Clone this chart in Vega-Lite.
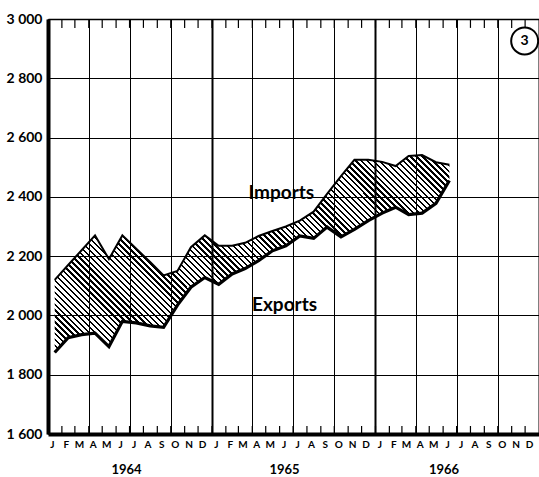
{
"$schema":"https://vega.github.io/schema/vega-lite/v6.json",
"width":491,"height":415,
"autosize":{"type":"none"},
"padding":{"left":48,"top":19,"right":0,"bottom":43},
"background":"white",
"config":{"view":{"stroke":null},"font":"Lato","axis":{"labelColor":"#000","domainColor":"#000","gridColor":"#000","labelFont":"Lato"}},
"resolve":{"axis":{"x":"independent","y":"independent"}},
"data":{"values":[
{"date":"1964-01-16","imports":2120,"exports":1875},
{"date":"1964-02-15","imports":2170,"exports":1925},
{"date":"1964-03-16","imports":2220,"exports":1935},
{"date":"1964-04-15","imports":2270,"exports":1940},
{"date":"1964-05-16","imports":2190,"exports":1895},
{"date":"1964-06-15","imports":2270,"exports":1980},
{"date":"1964-07-16","imports":2225,"exports":1975},
{"date":"1964-08-16","imports":2180,"exports":1965},
{"date":"1964-09-15","imports":2135,"exports":1960},
{"date":"1964-10-16","imports":2150,"exports":2035},
{"date":"1964-11-15","imports":2230,"exports":2095},
{"date":"1964-12-16","imports":2270,"exports":2128},
{"date":"1965-01-16","imports":2235,"exports":2105},
{"date":"1965-02-15","imports":2235,"exports":2140},
{"date":"1965-03-16","imports":2245,"exports":2158},
{"date":"1965-04-15","imports":2268,"exports":2185},
{"date":"1965-05-16","imports":2285,"exports":2218},
{"date":"1965-06-15","imports":2300,"exports":2235},
{"date":"1965-07-16","imports":2320,"exports":2268},
{"date":"1965-08-16","imports":2350,"exports":2260},
{"date":"1965-09-15","imports":2410,"exports":2298},
{"date":"1965-10-16","imports":2470,"exports":2265},
{"date":"1965-11-15","imports":2525,"exports":2290},
{"date":"1965-12-16","imports":2525,"exports":2320},
{"date":"1966-01-16","imports":2518,"exports":2345},
{"date":"1966-02-15","imports":2504,"exports":2365},
{"date":"1966-03-16","imports":2538,"exports":2340},
{"date":"1966-04-15","imports":2541,"exports":2345},
{"date":"1966-05-16","imports":2517,"exports":2378},
{"date":"1966-06-15","imports":2508,"exports":2455}
]},
"layer":[
{"mark":{"type":"area","opacity":1,"stroke":null,"fill":{"gradient":"linear","x1":0,"y1":1,"x2":1.2,"y2":0.4,"stops":[
{"offset":0.00,"color":"#000"},{"offset":0.004,"color":"#000"},{"offset":0.004,"color":"rgba(0,0,0,0)"},{"offset":0.01,"color":"rgba(0,0,0,0)"},
{"offset":0.01,"color":"#000"},{"offset":0.014,"color":"#000"},{"offset":0.014,"color":"rgba(0,0,0,0)"},{"offset":0.02,"color":"rgba(0,0,0,0)"},
{"offset":0.02,"color":"#000"},{"offset":0.024,"color":"#000"},{"offset":0.024,"color":"rgba(0,0,0,0)"},{"offset":0.03,"color":"rgba(0,0,0,0)"},
{"offset":0.03,"color":"#000"},{"offset":0.034,"color":"#000"},{"offset":0.034,"color":"rgba(0,0,0,0)"},{"offset":0.04,"color":"rgba(0,0,0,0)"},
{"offset":0.04,"color":"#000"},{"offset":0.044,"color":"#000"},{"offset":0.044,"color":"rgba(0,0,0,0)"},{"offset":0.05,"color":"rgba(0,0,0,0)"},
{"offset":0.05,"color":"#000"},{"offset":0.054,"color":"#000"},{"offset":0.054,"color":"rgba(0,0,0,0)"},{"offset":0.06,"color":"rgba(0,0,0,0)"},
{"offset":0.06,"color":"#000"},{"offset":0.064,"color":"#000"},{"offset":0.064,"color":"rgba(0,0,0,0)"},{"offset":0.07,"color":"rgba(0,0,0,0)"},
{"offset":0.07,"color":"#000"},{"offset":0.074,"color":"#000"},{"offset":0.074,"color":"rgba(0,0,0,0)"},{"offset":0.08,"color":"rgba(0,0,0,0)"},
{"offset":0.08,"color":"#000"},{"offset":0.084,"color":"#000"},{"offset":0.084,"color":"rgba(0,0,0,0)"},{"offset":0.09,"color":"rgba(0,0,0,0)"},
{"offset":0.09,"color":"#000"},{"offset":0.094,"color":"#000"},{"offset":0.094,"color":"rgba(0,0,0,0)"},{"offset":0.10,"color":"rgba(0,0,0,0)"},
{"offset":0.10,"color":"#000"},{"offset":0.104,"color":"#000"},{"offset":0.104,"color":"rgba(0,0,0,0)"},{"offset":0.11,"color":"rgba(0,0,0,0)"},
{"offset":0.11,"color":"#000"},{"offset":0.114,"color":"#000"},{"offset":0.114,"color":"rgba(0,0,0,0)"},{"offset":0.12,"color":"rgba(0,0,0,0)"},
{"offset":0.12,"color":"#000"},{"offset":0.124,"color":"#000"},{"offset":0.124,"color":"rgba(0,0,0,0)"},{"offset":0.13,"color":"rgba(0,0,0,0)"},
{"offset":0.13,"color":"#000"},{"offset":0.134,"color":"#000"},{"offset":0.134,"color":"rgba(0,0,0,0)"},{"offset":0.14,"color":"rgba(0,0,0,0)"},
{"offset":0.14,"color":"#000"},{"offset":0.144,"color":"#000"},{"offset":0.144,"color":"rgba(0,0,0,0)"},{"offset":0.15,"color":"rgba(0,0,0,0)"},
{"offset":0.15,"color":"#000"},{"offset":0.154,"color":"#000"},{"offset":0.154,"color":"rgba(0,0,0,0)"},{"offset":0.16,"color":"rgba(0,0,0,0)"},
{"offset":0.16,"color":"#000"},{"offset":0.164,"color":"#000"},{"offset":0.164,"color":"rgba(0,0,0,0)"},{"offset":0.17,"color":"rgba(0,0,0,0)"},
{"offset":0.17,"color":"#000"},{"offset":0.174,"color":"#000"},{"offset":0.174,"color":"rgba(0,0,0,0)"},{"offset":0.18,"color":"rgba(0,0,0,0)"},
{"offset":0.18,"color":"#000"},{"offset":0.184,"color":"#000"},{"offset":0.184,"color":"rgba(0,0,0,0)"},{"offset":0.19,"color":"rgba(0,0,0,0)"},
{"offset":0.19,"color":"#000"},{"offset":0.194,"color":"#000"},{"offset":0.194,"color":"rgba(0,0,0,0)"},{"offset":0.20,"color":"rgba(0,0,0,0)"},
{"offset":0.20,"color":"#000"},{"offset":0.204,"color":"#000"},{"offset":0.204,"color":"rgba(0,0,0,0)"},{"offset":0.21,"color":"rgba(0,0,0,0)"},
{"offset":0.21,"color":"#000"},{"offset":0.214,"color":"#000"},{"offset":0.214,"color":"rgba(0,0,0,0)"},{"offset":0.22,"color":"rgba(0,0,0,0)"},
{"offset":0.22,"color":"#000"},{"offset":0.224,"color":"#000"},{"offset":0.224,"color":"rgba(0,0,0,0)"},{"offset":0.23,"color":"rgba(0,0,0,0)"},
{"offset":0.23,"color":"#000"},{"offset":0.234,"color":"#000"},{"offset":0.234,"color":"rgba(0,0,0,0)"},{"offset":0.24,"color":"rgba(0,0,0,0)"},
{"offset":0.24,"color":"#000"},{"offset":0.244,"color":"#000"},{"offset":0.244,"color":"rgba(0,0,0,0)"},{"offset":0.25,"color":"rgba(0,0,0,0)"},
{"offset":0.25,"color":"#000"},{"offset":0.254,"color":"#000"},{"offset":0.254,"color":"rgba(0,0,0,0)"},{"offset":0.26,"color":"rgba(0,0,0,0)"},
{"offset":0.26,"color":"#000"},{"offset":0.264,"color":"#000"},{"offset":0.264,"color":"rgba(0,0,0,0)"},{"offset":0.27,"color":"rgba(0,0,0,0)"},
{"offset":0.27,"color":"#000"},{"offset":0.274,"color":"#000"},{"offset":0.274,"color":"rgba(0,0,0,0)"},{"offset":0.28,"color":"rgba(0,0,0,0)"},
{"offset":0.28,"color":"#000"},{"offset":0.284,"color":"#000"},{"offset":0.284,"color":"rgba(0,0,0,0)"},{"offset":0.29,"color":"rgba(0,0,0,0)"},
{"offset":0.29,"color":"#000"},{"offset":0.294,"color":"#000"},{"offset":0.294,"color":"rgba(0,0,0,0)"},{"offset":0.30,"color":"rgba(0,0,0,0)"},
{"offset":0.30,"color":"#000"},{"offset":0.304,"color":"#000"},{"offset":0.304,"color":"rgba(0,0,0,0)"},{"offset":0.31,"color":"rgba(0,0,0,0)"},
{"offset":0.31,"color":"#000"},{"offset":0.314,"color":"#000"},{"offset":0.314,"color":"rgba(0,0,0,0)"},{"offset":0.32,"color":"rgba(0,0,0,0)"},
{"offset":0.32,"color":"#000"},{"offset":0.324,"color":"#000"},{"offset":0.324,"color":"rgba(0,0,0,0)"},{"offset":0.33,"color":"rgba(0,0,0,0)"},
{"offset":0.33,"color":"#000"},{"offset":0.334,"color":"#000"},{"offset":0.334,"color":"rgba(0,0,0,0)"},{"offset":0.34,"color":"rgba(0,0,0,0)"},
{"offset":0.34,"color":"#000"},{"offset":0.344,"color":"#000"},{"offset":0.344,"color":"rgba(0,0,0,0)"},{"offset":0.35,"color":"rgba(0,0,0,0)"},
{"offset":0.35,"color":"#000"},{"offset":0.354,"color":"#000"},{"offset":0.354,"color":"rgba(0,0,0,0)"},{"offset":0.36,"color":"rgba(0,0,0,0)"},
{"offset":0.36,"color":"#000"},{"offset":0.364,"color":"#000"},{"offset":0.364,"color":"rgba(0,0,0,0)"},{"offset":0.37,"color":"rgba(0,0,0,0)"},
{"offset":0.37,"color":"#000"},{"offset":0.374,"color":"#000"},{"offset":0.374,"color":"rgba(0,0,0,0)"},{"offset":0.38,"color":"rgba(0,0,0,0)"},
{"offset":0.38,"color":"#000"},{"offset":0.384,"color":"#000"},{"offset":0.384,"color":"rgba(0,0,0,0)"},{"offset":0.39,"color":"rgba(0,0,0,0)"},
{"offset":0.39,"color":"#000"},{"offset":0.394,"color":"#000"},{"offset":0.394,"color":"rgba(0,0,0,0)"},{"offset":0.40,"color":"rgba(0,0,0,0)"},
{"offset":0.40,"color":"#000"},{"offset":0.404,"color":"#000"},{"offset":0.404,"color":"rgba(0,0,0,0)"},{"offset":0.41,"color":"rgba(0,0,0,0)"},
{"offset":0.41,"color":"#000"},{"offset":0.414,"color":"#000"},{"offset":0.414,"color":"rgba(0,0,0,0)"},{"offset":0.42,"color":"rgba(0,0,0,0)"},
{"offset":0.42,"color":"#000"},{"offset":0.424,"color":"#000"},{"offset":0.424,"color":"rgba(0,0,0,0)"},{"offset":0.43,"color":"rgba(0,0,0,0)"},
{"offset":0.43,"color":"#000"},{"offset":0.434,"color":"#000"},{"offset":0.434,"color":"rgba(0,0,0,0)"},{"offset":0.44,"color":"rgba(0,0,0,0)"},
{"offset":0.44,"color":"#000"},{"offset":0.444,"color":"#000"},{"offset":0.444,"color":"rgba(0,0,0,0)"},{"offset":0.45,"color":"rgba(0,0,0,0)"},
{"offset":0.45,"color":"#000"},{"offset":0.454,"color":"#000"},{"offset":0.454,"color":"rgba(0,0,0,0)"},{"offset":0.46,"color":"rgba(0,0,0,0)"},
{"offset":0.46,"color":"#000"},{"offset":0.464,"color":"#000"},{"offset":0.464,"color":"rgba(0,0,0,0)"},{"offset":0.47,"color":"rgba(0,0,0,0)"},
{"offset":0.47,"color":"#000"},{"offset":0.474,"color":"#000"},{"offset":0.474,"color":"rgba(0,0,0,0)"},{"offset":0.48,"color":"rgba(0,0,0,0)"},
{"offset":0.48,"color":"#000"},{"offset":0.484,"color":"#000"},{"offset":0.484,"color":"rgba(0,0,0,0)"},{"offset":0.49,"color":"rgba(0,0,0,0)"},
{"offset":0.49,"color":"#000"},{"offset":0.494,"color":"#000"},{"offset":0.494,"color":"rgba(0,0,0,0)"},{"offset":0.50,"color":"rgba(0,0,0,0)"},
{"offset":0.50,"color":"#000"},{"offset":0.504,"color":"#000"},{"offset":0.504,"color":"rgba(0,0,0,0)"},{"offset":0.51,"color":"rgba(0,0,0,0)"},
{"offset":0.51,"color":"#000"},{"offset":0.514,"color":"#000"},{"offset":0.514,"color":"rgba(0,0,0,0)"},{"offset":0.52,"color":"rgba(0,0,0,0)"},
{"offset":0.52,"color":"#000"},{"offset":0.524,"color":"#000"},{"offset":0.524,"color":"rgba(0,0,0,0)"},{"offset":0.53,"color":"rgba(0,0,0,0)"},
{"offset":0.53,"color":"#000"},{"offset":0.534,"color":"#000"},{"offset":0.534,"color":"rgba(0,0,0,0)"},{"offset":0.54,"color":"rgba(0,0,0,0)"},
{"offset":0.54,"color":"#000"},{"offset":0.544,"color":"#000"},{"offset":0.544,"color":"rgba(0,0,0,0)"},{"offset":0.55,"color":"rgba(0,0,0,0)"},
{"offset":0.55,"color":"#000"},{"offset":0.554,"color":"#000"},{"offset":0.554,"color":"rgba(0,0,0,0)"},{"offset":0.56,"color":"rgba(0,0,0,0)"},
{"offset":0.56,"color":"#000"},{"offset":0.564,"color":"#000"},{"offset":0.564,"color":"rgba(0,0,0,0)"},{"offset":0.57,"color":"rgba(0,0,0,0)"},
{"offset":0.57,"color":"#000"},{"offset":0.574,"color":"#000"},{"offset":0.574,"color":"rgba(0,0,0,0)"},{"offset":0.58,"color":"rgba(0,0,0,0)"},
{"offset":0.58,"color":"#000"},{"offset":0.584,"color":"#000"},{"offset":0.584,"color":"rgba(0,0,0,0)"},{"offset":0.59,"color":"rgba(0,0,0,0)"},
{"offset":0.59,"color":"#000"},{"offset":0.594,"color":"#000"},{"offset":0.594,"color":"rgba(0,0,0,0)"},{"offset":0.60,"color":"rgba(0,0,0,0)"},
{"offset":0.60,"color":"#000"},{"offset":0.604,"color":"#000"},{"offset":0.604,"color":"rgba(0,0,0,0)"},{"offset":0.61,"color":"rgba(0,0,0,0)"},
{"offset":0.61,"color":"#000"},{"offset":0.614,"color":"#000"},{"offset":0.614,"color":"rgba(0,0,0,0)"},{"offset":0.62,"color":"rgba(0,0,0,0)"},
{"offset":0.62,"color":"#000"},{"offset":0.624,"color":"#000"},{"offset":0.624,"color":"rgba(0,0,0,0)"},{"offset":0.63,"color":"rgba(0,0,0,0)"},
{"offset":0.63,"color":"#000"},{"offset":0.634,"color":"#000"},{"offset":0.634,"color":"rgba(0,0,0,0)"},{"offset":0.64,"color":"rgba(0,0,0,0)"},
{"offset":0.64,"color":"#000"},{"offset":0.644,"color":"#000"},{"offset":0.644,"color":"rgba(0,0,0,0)"},{"offset":0.65,"color":"rgba(0,0,0,0)"},
{"offset":0.65,"color":"#000"},{"offset":0.654,"color":"#000"},{"offset":0.654,"color":"rgba(0,0,0,0)"},{"offset":0.66,"color":"rgba(0,0,0,0)"},
{"offset":0.66,"color":"#000"},{"offset":0.664,"color":"#000"},{"offset":0.664,"color":"rgba(0,0,0,0)"},{"offset":0.67,"color":"rgba(0,0,0,0)"},
{"offset":0.67,"color":"#000"},{"offset":0.674,"color":"#000"},{"offset":0.674,"color":"rgba(0,0,0,0)"},{"offset":0.68,"color":"rgba(0,0,0,0)"},
{"offset":0.68,"color":"#000"},{"offset":0.684,"color":"#000"},{"offset":0.684,"color":"rgba(0,0,0,0)"},{"offset":0.69,"color":"rgba(0,0,0,0)"},
{"offset":0.69,"color":"#000"},{"offset":0.694,"color":"#000"},{"offset":0.694,"color":"rgba(0,0,0,0)"},{"offset":0.70,"color":"rgba(0,0,0,0)"},
{"offset":0.70,"color":"#000"},{"offset":0.704,"color":"#000"},{"offset":0.704,"color":"rgba(0,0,0,0)"},{"offset":0.71,"color":"rgba(0,0,0,0)"},
{"offset":0.71,"color":"#000"},{"offset":0.714,"color":"#000"},{"offset":0.714,"color":"rgba(0,0,0,0)"},{"offset":0.72,"color":"rgba(0,0,0,0)"},
{"offset":0.72,"color":"#000"},{"offset":0.724,"color":"#000"},{"offset":0.724,"color":"rgba(0,0,0,0)"},{"offset":0.73,"color":"rgba(0,0,0,0)"},
{"offset":0.73,"color":"#000"},{"offset":0.734,"color":"#000"},{"offset":0.734,"color":"rgba(0,0,0,0)"},{"offset":0.74,"color":"rgba(0,0,0,0)"},
{"offset":0.74,"color":"#000"},{"offset":0.744,"color":"#000"},{"offset":0.744,"color":"rgba(0,0,0,0)"},{"offset":0.75,"color":"rgba(0,0,0,0)"},
{"offset":0.75,"color":"#000"},{"offset":0.754,"color":"#000"},{"offset":0.754,"color":"rgba(0,0,0,0)"},{"offset":0.76,"color":"rgba(0,0,0,0)"},
{"offset":0.76,"color":"#000"},{"offset":0.764,"color":"#000"},{"offset":0.764,"color":"rgba(0,0,0,0)"},{"offset":0.77,"color":"rgba(0,0,0,0)"},
{"offset":0.77,"color":"#000"},{"offset":0.774,"color":"#000"},{"offset":0.774,"color":"rgba(0,0,0,0)"},{"offset":0.78,"color":"rgba(0,0,0,0)"},
{"offset":0.78,"color":"#000"},{"offset":0.784,"color":"#000"},{"offset":0.784,"color":"rgba(0,0,0,0)"},{"offset":0.79,"color":"rgba(0,0,0,0)"},
{"offset":0.79,"color":"#000"},{"offset":0.794,"color":"#000"},{"offset":0.794,"color":"rgba(0,0,0,0)"},{"offset":0.80,"color":"rgba(0,0,0,0)"},
{"offset":0.80,"color":"#000"},{"offset":0.804,"color":"#000"},{"offset":0.804,"color":"rgba(0,0,0,0)"},{"offset":0.81,"color":"rgba(0,0,0,0)"},
{"offset":0.81,"color":"#000"},{"offset":0.814,"color":"#000"},{"offset":0.814,"color":"rgba(0,0,0,0)"},{"offset":0.82,"color":"rgba(0,0,0,0)"},
{"offset":0.82,"color":"#000"},{"offset":0.824,"color":"#000"},{"offset":0.824,"color":"rgba(0,0,0,0)"},{"offset":0.83,"color":"rgba(0,0,0,0)"},
{"offset":0.83,"color":"#000"},{"offset":0.834,"color":"#000"},{"offset":0.834,"color":"rgba(0,0,0,0)"},{"offset":0.84,"color":"rgba(0,0,0,0)"},
{"offset":0.84,"color":"#000"},{"offset":0.844,"color":"#000"},{"offset":0.844,"color":"rgba(0,0,0,0)"},{"offset":0.85,"color":"rgba(0,0,0,0)"},
{"offset":0.85,"color":"#000"},{"offset":0.854,"color":"#000"},{"offset":0.854,"color":"rgba(0,0,0,0)"},{"offset":0.86,"color":"rgba(0,0,0,0)"},
{"offset":0.86,"color":"#000"},{"offset":0.864,"color":"#000"},{"offset":0.864,"color":"rgba(0,0,0,0)"},{"offset":0.87,"color":"rgba(0,0,0,0)"},
{"offset":0.87,"color":"#000"},{"offset":0.874,"color":"#000"},{"offset":0.874,"color":"rgba(0,0,0,0)"},{"offset":0.88,"color":"rgba(0,0,0,0)"},
{"offset":0.88,"color":"#000"},{"offset":0.884,"color":"#000"},{"offset":0.884,"color":"rgba(0,0,0,0)"},{"offset":0.89,"color":"rgba(0,0,0,0)"},
{"offset":0.89,"color":"#000"},{"offset":0.894,"color":"#000"},{"offset":0.894,"color":"rgba(0,0,0,0)"},{"offset":0.90,"color":"rgba(0,0,0,0)"},
{"offset":0.90,"color":"#000"},{"offset":0.904,"color":"#000"},{"offset":0.904,"color":"rgba(0,0,0,0)"},{"offset":0.91,"color":"rgba(0,0,0,0)"},
{"offset":0.91,"color":"#000"},{"offset":0.914,"color":"#000"},{"offset":0.914,"color":"rgba(0,0,0,0)"},{"offset":0.92,"color":"rgba(0,0,0,0)"},
{"offset":0.92,"color":"#000"},{"offset":0.924,"color":"#000"},{"offset":0.924,"color":"rgba(0,0,0,0)"},{"offset":0.93,"color":"rgba(0,0,0,0)"},
{"offset":0.93,"color":"#000"},{"offset":0.934,"color":"#000"},{"offset":0.934,"color":"rgba(0,0,0,0)"},{"offset":0.94,"color":"rgba(0,0,0,0)"},
{"offset":0.94,"color":"#000"},{"offset":0.944,"color":"#000"},{"offset":0.944,"color":"rgba(0,0,0,0)"},{"offset":0.95,"color":"rgba(0,0,0,0)"},
{"offset":0.95,"color":"#000"},{"offset":0.954,"color":"#000"},{"offset":0.954,"color":"rgba(0,0,0,0)"},{"offset":0.96,"color":"rgba(0,0,0,0)"},
{"offset":0.96,"color":"#000"},{"offset":0.964,"color":"#000"},{"offset":0.964,"color":"rgba(0,0,0,0)"},{"offset":0.97,"color":"rgba(0,0,0,0)"},
{"offset":0.97,"color":"#000"},{"offset":0.974,"color":"#000"},{"offset":0.974,"color":"rgba(0,0,0,0)"},{"offset":0.98,"color":"rgba(0,0,0,0)"},
{"offset":0.98,"color":"#000"},{"offset":0.984,"color":"#000"},{"offset":0.984,"color":"rgba(0,0,0,0)"},{"offset":0.99,"color":"rgba(0,0,0,0)"},
{"offset":0.99,"color":"#000"},{"offset":0.994,"color":"#000"},{"offset":0.994,"color":"rgba(0,0,0,0)"},{"offset":1,"color":"rgba(0,0,0,0)"}
]}},
"encoding":{
"x":{"field":"date","type":"temporal","scale":{"type":"utc","domain":[{"year":1964,"month":1,"date":1,"utc":true},{"year":1967,"month":1,"date":1,"utc":true}]},"axis":null},
"y":{"field":"imports","type":"quantitative","scale":{"domain":[1600,3000],"nice":false,"zero":false},
"axis":{"orient":"left","title":null,"values":[1600,1800,2000,2200,2400,2600,2800,3000],"format":",d","labelExpr":"replace(datum.label, ',', ' ')","grid":true,"gridColor":"#000","gridWidth":1,"ticks":false,"domain":true,"domainWidth":4,"labelPadding":6,"labelFontSize":14,"labelFontWeight":"bold"}},
"y2":{"field":"exports"}
}},
{"mark":{"type":"line","color":"#000","strokeWidth":2},
"encoding":{
"x":{"field":"date","type":"temporal","scale":{"type":"utc","domain":[{"year":1964,"month":1,"date":1,"utc":true},{"year":1967,"month":1,"date":1,"utc":true}]},
"axis":{"orient":"bottom","title":null,"tickCount":{"interval":"year","step":1},"labels":false,"grid":false,"ticks":false,"domain":true,"domainWidth":4}},
"y":{"field":"imports","type":"quantitative","scale":{"domain":[1600,3000],"nice":false,"zero":false},"axis":null}
}},
{"mark":{"type":"line","color":"#000","strokeWidth":3.2},
"encoding":{
"x":{"field":"date","type":"temporal","scale":{"type":"utc","domain":[{"year":1964,"month":1,"date":1,"utc":true},{"year":1967,"month":1,"date":1,"utc":true}]},
"axis":{"orient":"bottom","title":null,"tickCount":{"interval":"month","step":1},"ticks":false,"domain":false,"grid":false,"labelExpr":"utcyear(datum.value) > 1966 ? '' : substring(utcFormat(datum.value, '%b'), 0, 1)","labelOffset":4,"labelPadding":5,"labelFontSize":10,"labelFontWeight":"bold","labelFlush":false,"labelOverlap":false,"labelAlign":"center"}},
"y":{"field":"exports","type":"quantitative","scale":{"domain":[1600,3000],"nice":false,"zero":false},"axis":null}
}},
{"data":{"values":[{"label":"Imports","date":"1965-06-05","value":2393},{"label":"Exports","date":"1965-06-12","value":2015}]},
"mark":{"type":"text","fontSize":19,"fontWeight":"bold","align":"center","baseline":"alphabetic","color":"#000"},
"encoding":{
"x":{"field":"date","type":"temporal","scale":{"type":"utc","domain":[{"year":1964,"month":1,"date":1,"utc":true},{"year":1967,"month":1,"date":1,"utc":true}]},
"axis":{"orient":"bottom","title":null,"tickCount":{"interval":"year","step":1},"ticks":false,"domain":false,"grid":false,"labelExpr":"utcyear(datum.value) > 1966 ? '' : utcFormat(datum.value, '%Y')","labelOffset":{"condition":[{"test":"utcyear(datum.value) == 1964","value":78},{"test":"utcyear(datum.value) == 1966","value":68}],"value":72},"labelPadding":29,"labelFontSize":13,"labelFontWeight":"bold","labelFlush":false,"labelOverlap":false,"labelAlign":"center"}},
"y":{"field":"value","type":"quantitative","scale":{"domain":[1600,3000],"nice":false,"zero":false},"axis":null},
"text":{"field":"label"}
}},
{"data":{"values":[
{"m":"1964-02-01"},{"m":"1964-03-01"},{"m":"1964-04-01"},{"m":"1964-05-01"},{"m":"1964-06-01"},{"m":"1964-07-01"},{"m":"1964-08-01"},{"m":"1964-09-01"},{"m":"1964-10-01"},{"m":"1964-11-01"},{"m":"1964-12-01"},
{"m":"1965-01-01"},{"m":"1965-02-01"},{"m":"1965-03-01"},{"m":"1965-04-01"},{"m":"1965-05-01"},{"m":"1965-06-01"},{"m":"1965-07-01"},{"m":"1965-08-01"},{"m":"1965-09-01"},{"m":"1965-10-01"},{"m":"1965-11-01"},{"m":"1965-12-01"},
{"m":"1966-01-01"},{"m":"1966-02-01"},{"m":"1966-03-01"},{"m":"1966-04-01"},{"m":"1966-05-01"},{"m":"1966-06-01"},{"m":"1966-07-01"},{"m":"1966-08-01"},{"m":"1966-09-01"},{"m":"1966-10-01"},{"m":"1966-11-01"},{"m":"1966-12-01"}
]},
"layer":[
{"mark":{"type":"rule","color":"#000","strokeWidth":1.2},
"encoding":{
"x":{"field":"m","type":"temporal","scale":{"type":"utc","domain":[{"year":1964,"month":1,"date":1,"utc":true},{"year":1967,"month":1,"date":1,"utc":true}]},"axis":null},
"y":{"datum":1600,"type":"quantitative","scale":{"domain":[1600,3000],"nice":false,"zero":false},"axis":null},
"y2":{"datum":1627}
}},
{"mark":{"type":"rule","color":"#000","strokeWidth":1.2},
"encoding":{
"x":{"field":"m","type":"temporal","scale":{"type":"utc","domain":[{"year":1964,"month":1,"date":1,"utc":true},{"year":1967,"month":1,"date":1,"utc":true}]},"axis":null},
"y":{"datum":3000,"type":"quantitative","scale":{"domain":[1600,3000],"nice":false,"zero":false},"axis":null},
"y2":{"datum":2970}
}}
]},
{"data":{"values":[{"label":"3","date":"1966-11-30","value":2926}]},
"mark":{"type":"point","shape":"circle","size":729,"filled":false,"stroke":"#000","strokeWidth":2,"opacity":1},
"encoding":{
"x":{"field":"date","type":"temporal","scale":{"type":"utc","domain":[{"year":1964,"month":1,"date":1,"utc":true},{"year":1967,"month":1,"date":1,"utc":true}]},"axis":null},
"y":{"field":"value","type":"quantitative","scale":{"domain":[1600,3000],"nice":false,"zero":false},"axis":null}
}},
{"data":{"values":[{"label":"3","date":"1966-11-30","value":2926}]},
"mark":{"type":"text","fontSize":14,"fontWeight":"bold","align":"center","baseline":"middle","color":"#000"},
"encoding":{
"x":{"field":"date","type":"temporal","scale":{"type":"utc","domain":[{"year":1964,"month":1,"date":1,"utc":true},{"year":1967,"month":1,"date":1,"utc":true}]},
"axis":{"orient":"top","title":null,"tickCount":{"interval":"month","step":3},"labels":false,"ticks":false,"domain":true,"domainWidth":1.5,"grid":true,"gridColor":"#000","gridWidth":{"condition":{"test":"utcmonth(datum.value) == 0","value":2},"value":1}}},
"y":{"field":"value","type":"quantitative","scale":{"domain":[1600,3000],"nice":false,"zero":false},"axis":null},
"text":{"field":"label"}
}}
]
}
